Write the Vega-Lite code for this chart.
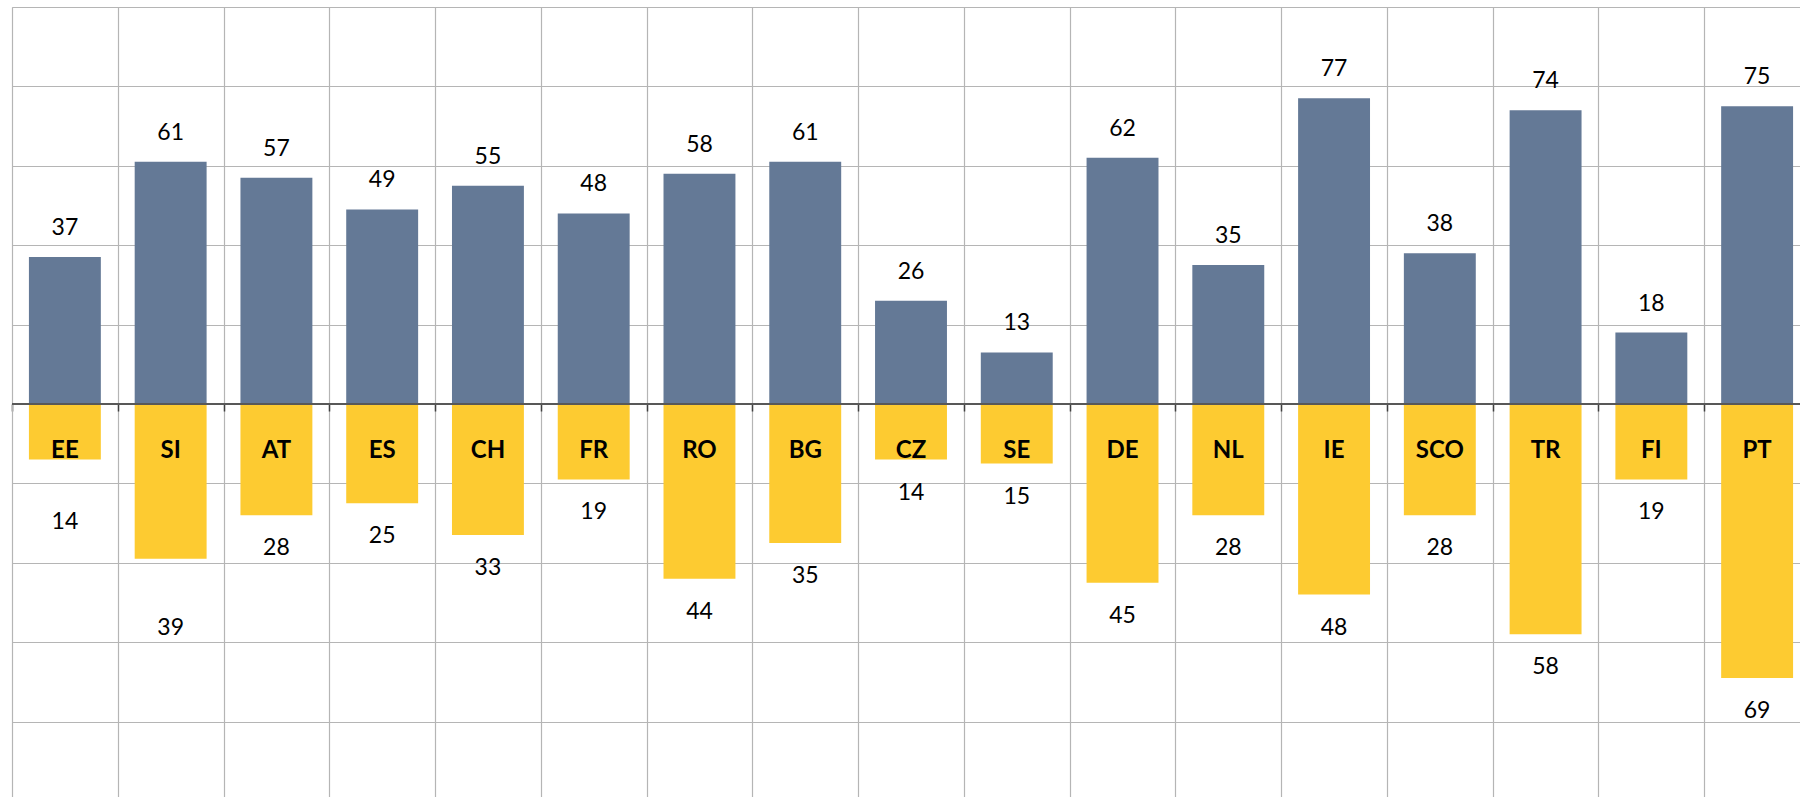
{
  "$schema": "https://vega.github.io/schema/vega-lite/v6.json",
  "width": 1788,
  "height": 790,
  "padding": {"left": 12, "top": 7, "right": 0, "bottom": 0},
  "autosize": {"type": "none"},
  "background": "white",
  "config": {"view": {"stroke": null}, "font": "Lato"},
  "data": {
    "values": [
      {"country": "EE", "up": 37, "down": 14},
      {"country": "SI", "up": 61, "down": 39},
      {"country": "AT", "up": 57, "down": 28},
      {"country": "ES", "up": 49, "down": 25},
      {"country": "CH", "up": 55, "down": 33},
      {"country": "FR", "up": 48, "down": 19},
      {"country": "RO", "up": 58, "down": 44},
      {"country": "BG", "up": 61, "down": 35},
      {"country": "CZ", "up": 26, "down": 14},
      {"country": "SE", "up": 13, "down": 15},
      {"country": "DE", "up": 62, "down": 45},
      {"country": "NL", "up": 35, "down": 28},
      {"country": "IE", "up": 77, "down": 48},
      {"country": "SCO", "up": 38, "down": 28},
      {"country": "TR", "up": 74, "down": 58},
      {"country": "FI", "up": 18, "down": 19},
      {"country": "PT", "up": 75, "down": 69}
    ]
  },
  "resolve": {"scale": {"y": "independent"}},
  "layer": [
    {
      "layer": [
        {
          "mark": {"type": "bar", "color": "#647996", "width": {"band": 0.68}},
          "encoding": {
            "x": {
              "field": "country", "type": "nominal", "sort": null,
              "scale": {"range": [0, 1798], "paddingInner": 0, "paddingOuter": 0},
              "axis": {
                "title": null, "labels": false, "orient": "bottom", "offset": -393,
                "tickBand": "extent", "ticks": true, "tickSize": 7, "tickColor": "#404040", "tickWidth": 1.5,
                "domain": false, "grid": true, "gridColor": "#b5b5b5", "gridWidth": 1.2
              }
            },
            "y": {
              "field": "up", "type": "quantitative",
              "scale": {"domain": [-99, 100], "nice": false},
              "axis": {
                "title": null, "labels": false, "ticks": false, "domain": true, "domainColor": "#b5b5b5",
                "grid": true, "gridColor": "#b5b5b5", "gridWidth": 1.2,
                "values": [-80, -60, -40, -20, 0, 20, 40, 60, 80, 100]
              }
            },
            "y2": {"datum": 0}
          }
        },
        {
          "mark": {"type": "text", "dy": -29, "baseline": "middle", "fontSize": 23, "color": "#000000"},
          "encoding": {
            "x": {"field": "country", "type": "nominal", "sort": null, "bandPosition": 0.5},
            "y": {"field": "up", "type": "quantitative"},
            "text": {"field": "up", "type": "quantitative"}
          }
        }
      ]
    },
    {
      "layer": [
        {
          "mark": {"type": "bar", "color": "#FDCB31", "width": {"band": 0.68}},
          "encoding": {
            "x": {"field": "country", "type": "nominal", "sort": null},
            "y": {
              "field": "down", "type": "quantitative",
              "scale": {"domain": [-100, 99], "reverse": true, "nice": false},
              "axis": null
            },
            "y2": {"datum": 0}
          }
        },
        {
          "transform": [{"filter": "datum.country != 'EE' && datum.country != 'SI'"}],
          "mark": {"type": "text", "dy": 33, "baseline": "middle", "fontSize": 23, "color": "#000000"},
          "encoding": {
            "x": {"field": "country", "type": "nominal", "sort": null, "bandPosition": 0.5},
            "y": {"field": "down", "type": "quantitative"},
            "text": {"field": "down", "type": "quantitative"}
          }
        },
        {
          "transform": [{"filter": "datum.country == 'EE'"}],
          "mark": {"type": "text", "dy": 62, "baseline": "middle", "fontSize": 23, "color": "#000000"},
          "encoding": {
            "x": {"field": "country", "type": "nominal", "sort": null, "bandPosition": 0.5},
            "y": {"field": "down", "type": "quantitative"},
            "text": {"field": "down", "type": "quantitative"}
          }
        },
        {
          "transform": [{"filter": "datum.country == 'SI'"}],
          "mark": {"type": "text", "dy": 69, "baseline": "middle", "fontSize": 23, "color": "#000000"},
          "encoding": {
            "x": {"field": "country", "type": "nominal", "sort": null, "bandPosition": 0.5},
            "y": {"field": "down", "type": "quantitative"},
            "text": {"field": "down", "type": "quantitative"}
          }
        },
        {
          "mark": {"type": "text", "dy": 47, "baseline": "middle", "fontSize": 24, "fontWeight": "bold", "color": "#000000"},
          "encoding": {
            "x": {"field": "country", "type": "nominal", "sort": null, "bandPosition": 0.5},
            "y": {"datum": 0},
            "text": {"field": "country", "type": "nominal"}
          }
        },
        {
          "mark": {"type": "rule", "color": "#595959", "strokeWidth": 1.5},
          "encoding": {"y": {"datum": 0}}
        }
      ]
    }
  ]
}
